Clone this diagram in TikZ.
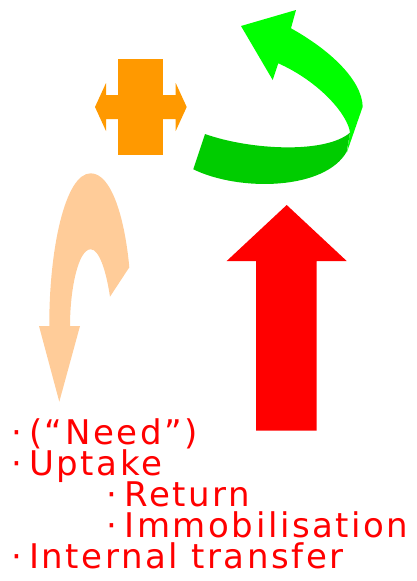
\documentclass[tikz,border=0pt]{standalone}
\usepackage{fontspec}
\newfontfamily\lblfont{DejaVu Sans}[LetterSpace=7.5]
\definecolor{crossorange}{HTML}{FF9900}
\definecolor{lightgreen}{HTML}{00FF00}
\definecolor{darkgreen}{HTML}{00CC00}
\definecolor{peach}{HTML}{FFCC99}
\definecolor{arrowred}{HTML}{FF0000}
\begin{document}
\begin{tikzpicture}[x=1pt,y=-1pt,
  lbl/.style={anchor=base west, inner sep=0pt, text height=22pt, text depth=5pt, text=arrowred, font=\lblfont\fontsize{34}{34}\selectfont}]
\useasboundingbox (0,0) rectangle (417,581);
% orange cross with double arrow
\fill[crossorange] (118,59) rectangle (163,155);
\fill[crossorange] (95,107) -- (106,83) -- (106,95) -- (175.7,95) -- (175.7,83) -- (186.7,107)
  -- (175.7,131) -- (175.7,119) -- (106,119) -- (106,131) -- cycle;
% green curved arrow, light upper part
\fill[lightgreen] (241,26) -- (296,10) -- (291,28.3)
  .. controls (330,50) and (362,80) .. (362.7,106.7)
  -- (347,152) -- (350,132.7)
  .. controls (348,115) and (320,82) .. (278.3,63.3)
  -- (272.7,80) -- cycle;
% green curved arrow, dark lower part
\fill[darkgreen] (205,134)
  .. controls (250,150) and (325,154) .. (350,132.7)
  -- (346.7,151.7)
  .. controls (325,190) and (240,192) .. (193.3,169.3) -- cycle;
% peach curved arrow
\fill[peach] (59.3,401.7) -- (39,326) -- (49.3,326)
  .. controls (49,250) and (65,173.3) .. (90.7,173.3)
  .. controls (112,173.3) and (125,220) .. (129.3,267.3)
  -- (110,296.7)
  .. controls (106,270) and (99,249.3) .. (90.7,249.3)
  .. controls (78,249.3) and (70,290) .. (70,326)
  -- (80,326) -- cycle;
% red up arrow
\fill[arrowred] (286.7,205) -- (346.7,261) -- (316.7,261) -- (316.7,430.7)
  -- (256,430.7) -- (256,261) -- (226.7,261) -- cycle;
% text
\node[lbl] (need) at (29,444) {\llap{·\kern 7pt}(“Need”)};
\node[lbl] (uptake) at (29,475) {\llap{·\kern 7pt}Uptake};
\node[lbl] (return) at (124.5,506.7) {\llap{·\kern 7pt}Return};
\node[lbl] (immob) at (124.5,537.7) {\llap{·\kern 7pt}Immobilisation};
\node[lbl] (transfer) at (29,568.3) {\llap{·\kern 7pt}Internal transfer};
\end{tikzpicture}
\end{document}
